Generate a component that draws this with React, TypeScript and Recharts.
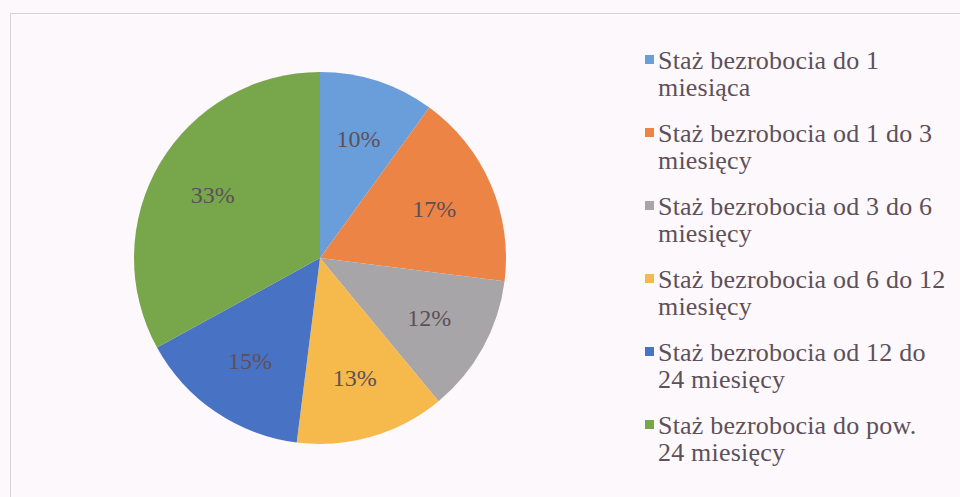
import { Cell, Legend, Pie, PieChart } from 'recharts';

const categories = [
  'Staż bezrobocia do 1 miesiąca',
  'Staż bezrobocia od 1 do 3 miesięcy',
  'Staż bezrobocia od 3 do 6 miesięcy',
  'Staż bezrobocia od 6 do 12 miesięcy',
  'Staż bezrobocia od 12 do 24 miesięcy',
  'Staż bezrobocia do pow. 24 miesięcy',
];

// legend text is wrapped the same way as in the original
const legendFirstLines = [
  'Staż bezrobocia do 1',
  'Staż bezrobocia od 1 do 3',
  'Staż bezrobocia od 3 do 6',
  'Staż bezrobocia od 6 do 12',
  'Staż bezrobocia od 12 do',
  'Staż bezrobocia do pow.',
];

const shares = [10, 17, 12, 13, 15, 33];

const colors = ['#6a9edb', '#ec8445', '#a8a5a9', '#f6ba4c', '#4872c4', '#78a64b'];

const data = categories.map((name, i) => ({ name, value: shares[i] }));

const RADIAN = Math.PI / 180;
const TEXT = '#5e5058';
const FONT = '"Liberation Serif", "Times New Roman", serif';

function SliceLabel(props: any) {
  const { cx, cy, midAngle, outerRadius, value } = props;
  const r = outerRadius * 0.67;
  const x = cx + r * Math.cos(-midAngle * RADIAN);
  const y = cy + r * Math.sin(-midAngle * RADIAN);
  return (
    <text
      x={x}
      y={y}
      fill={TEXT}
      fontSize={24}
      fontFamily={FONT}
      textAnchor="middle"
      dominantBaseline="central"
    >
      {`${value}%`}
    </text>
  );
}

function LegendList() {
  return (
    <div style={{ fontFamily: FONT, fontSize: 26, lineHeight: '27px', color: TEXT, letterSpacing: 0.2 }}>
      {data.map((d, i) => {
        const first = legendFirstLines[i];
        const rest = d.name.slice(first.length).trim();
        return (
          <div key={d.name} style={{ position: 'relative', paddingLeft: 13, height: 73, whiteSpace: 'nowrap' }}>
            <span
              style={{
                position: 'absolute',
                left: 0,
                top: 8,
                width: 9,
                height: 9,
                background: colors[i],
              }}
            />
            <div>{first}</div>
            <div>{rest}</div>
          </div>
        );
      })}
    </div>
  );
}

export default function App() {
  return (
    <div
      style={{
        position: 'absolute',
        left: 0,
        top: 0,
        width: 960,
        height: 497,
        background: '#fcf8fc',
        overflow: 'hidden',
      }}
    >
      <div style={{ position: 'absolute', left: 10, top: 13, right: 0, height: 1, background: '#d6d2d6' }} />
      <div style={{ position: 'absolute', left: 10, top: 13, bottom: 0, width: 1, background: '#d6d2d6' }} />
      <PieChart
        width={960}
        height={497}
        margin={{ top: 0, right: 0, bottom: 0, left: 0 }}
        style={{ position: 'absolute', left: 0, top: 0 }}
      >
        <Pie
          data={data}
          dataKey="value"
          nameKey="name"
          cx={320}
          cy={258}
          outerRadius={186}
          startAngle={90}
          endAngle={-270}
          stroke="none"
          label={SliceLabel}
          labelLine={false}
          isAnimationActive={false}
        >
          {data.map((d, i) => (
            <Cell key={d.name} fill={colors[i]} />
          ))}
        </Pie>
        <Legend
          layout="vertical"
          align="right"
          verticalAlign="top"
          content={() => <LegendList />}
          wrapperStyle={{ left: 645, top: 47, width: 315 }}
        />
      </PieChart>
    </div>
  );
}
